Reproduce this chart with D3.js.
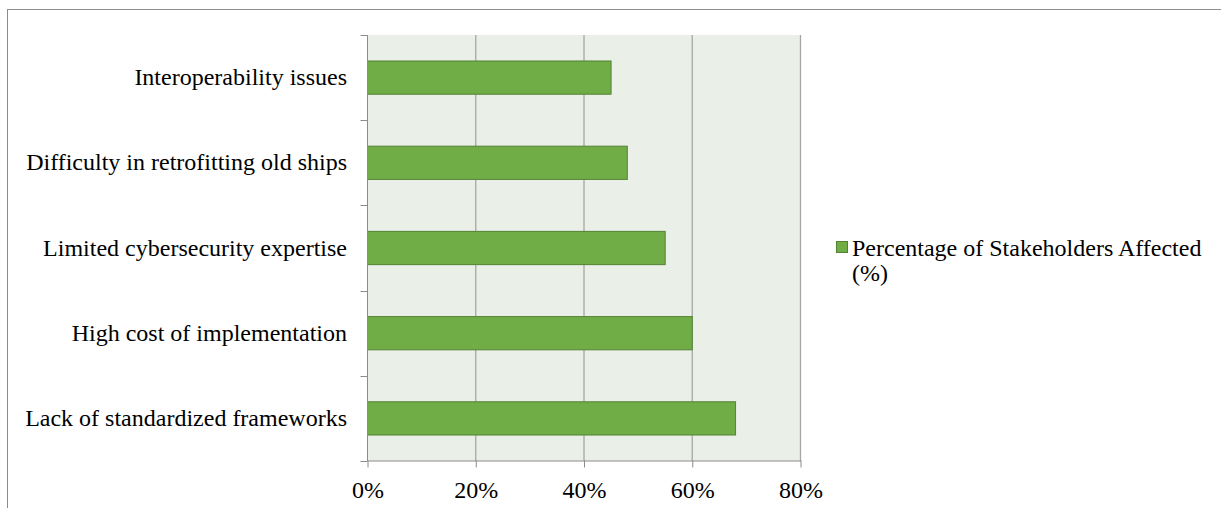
<!DOCTYPE html>
<html>
<head>
<meta charset="utf-8">
<script src="https://cdn.jsdelivr.net/npm/d3@7"></script>
<style>
  body { margin: 0; background: #fff; }
  svg { display: block; font-family: "Liberation Serif", "Times New Roman", serif; }
</style>
</head>
<body>
<svg width="1221" height="508"></svg>
<script>
// categories listed top to bottom as they appear
const categories = [
    'Interoperability issues',
    'Difficulty in retrofitting old ships',
    'Limited cybersecurity expertise',
    'High cost of implementation',
    'Lack of standardized frameworks'
];
const values = [45, 48, 55, 60, 68];
const xTicks = [0, 20, 40, 60, 80];
const seriesName = ['Percentage of Stakeholders Affected', '(%)'];

const svg = d3.select('svg');

// outer chart border (runs off the right and bottom edges)
svg.append('rect')
    .attr('x', 7.5).attr('y', 9.5)
    .attr('width', 1230).attr('height', 520)
    .attr('fill', 'none').attr('stroke', '#8c8c8c').attr('stroke-width', 1);

const plotLeft = 367.5, plotRight = 800.5, plotTop = 35, plotBottom = 461;

const xScale = d3.scaleLinear().domain([0, 80]).range([plotLeft, plotRight]);
const yScale = d3.scaleBand().domain(categories).range([plotTop, plotBottom]).paddingInner(0.61).paddingOuter(0.305);
const bandScale = d3.scaleBand().domain(categories).range([plotTop, plotBottom]);

// plot background
svg.append('rect')
    .attr('x', plotLeft).attr('y', plotTop)
    .attr('width', plotRight - plotLeft).attr('height', plotBottom - plotTop)
    .attr('fill', '#eaefe8');

// vertical gridlines
svg.selectAll('.grid')
    .data(xTicks.slice(1))
    .enter()
    .append('line')
    .attr('x1', d => xScale(d)).attr('x2', d => xScale(d))
    .attr('y1', plotTop).attr('y2', plotBottom)
    .attr('stroke', '#a6a6a6').attr('stroke-width', 1.3);

// bars
svg.selectAll('.bar')
    .data(values)
    .enter()
    .append('rect')
    .attr('x', xScale(0))
    .attr('y', (d, i) => yScale(categories[i]))
    .attr('width', d => xScale(d) - xScale(0))
    .attr('height', yScale.bandwidth())
    .attr('fill', '#70ad47')
    .attr('stroke', '#548235').attr('stroke-width', 1);

// y axis line and tick marks at band edges
svg.append('line')
    .attr('x1', plotLeft).attr('x2', plotLeft).attr('y1', plotTop).attr('y2', plotBottom)
    .attr('stroke', '#8c8c8c');
const edges = categories.map(c => bandScale(c)).concat([plotBottom]);
svg.selectAll('.ytick')
    .data(edges)
    .enter()
    .append('line')
    .attr('x1', plotLeft - 7).attr('x2', plotLeft)
    .attr('y1', d => Math.round(d) + 0.5).attr('y2', d => Math.round(d) + 0.5)
    .attr('stroke', '#8c8c8c');

// x axis
const xAxis = d3.axisBottom(xScale).tickValues(xTicks).tickFormat(d => d + '%').tickSize(7).tickSizeOuter(0);
const gx = svg.append('g').attr('transform', `translate(0,${plotBottom - 0.5})`).call(xAxis);
gx.select('.domain').attr('stroke', '#8c8c8c');
gx.selectAll('.tick line').attr('stroke', '#8c8c8c');
gx.selectAll('.tick text')
    .attr('y', 30).attr('dy', '0.32em')
    .attr('fill', '#000')
    .style('font-family', '"Liberation Serif", serif')
    .style('font-size', '24px');

// category labels
svg.selectAll('.ylabel')
    .data(categories)
    .enter()
    .append('text')
    .attr('x', 347)
    .attr('y', d => bandScale(d) + bandScale.bandwidth() / 2)
    .attr('dy', '0.32em')
    .attr('text-anchor', 'end')
    .style('font-size', '24px')
    .attr('fill', '#000')
    .text(d => d);

// legend
svg.append('rect')
    .attr('x', 836.5).attr('y', 241.5).attr('width', 11).attr('height', 11)
    .attr('fill', '#70ad47').attr('stroke', '#548235');
svg.selectAll('.legend')
    .data(seriesName)
    .enter()
    .append('text')
    .attr('x', 852)
    .attr('y', (d, i) => 256 + i * 25)
    .style('font-size', '24px')
    .attr('fill', '#000')
    .text(d => d);
</script>
</body>
</html>
